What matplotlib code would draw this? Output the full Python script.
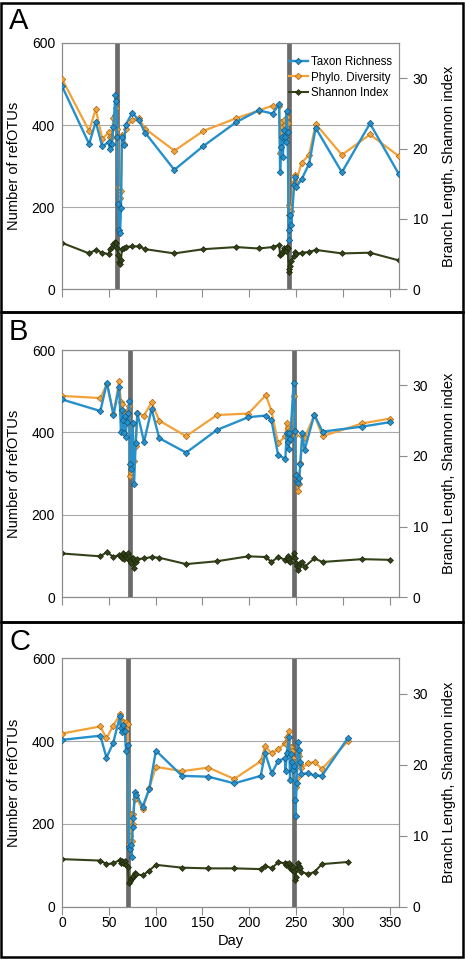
import matplotlib
matplotlib.use("Agg")
import matplotlib.pyplot as plt
from matplotlib.patches import Rectangle

plt.rcParams['font.family'] = ['Liberation Sans', 'DejaVu Sans']

# ---- data ----
# panel A
a_day = [0, 29, 36, 43, 50, 51, 53, 55, 57, 58,
         59, 60, 61, 62, 63, 64, 66, 68, 75, 82,
         89, 120, 151, 186, 210, 225, 232, 233, 234, 235,
         236, 237, 238, 239, 240, 241, 242.5, 243, 244, 245,
         248, 249, 250, 256, 264, 271, 299, 329, 360]
a_taxon = [495, 354, 408, 348, 359, 341, 355, 395, 474, 458,
           370, 209, 144, 137, 197, 371, 351, 400, 430, 412,
           381, 291, 349, 407, 436, 428, 451, 286, 347, 371,
           322, 387, 371, 359, 434, 383, 120, 144, 181, 156,
           254, 274, 248, 268, 306, 393, 285, 404, 280]
a_phylo = [29.9, 22.5, 25.6, 21.4, 22.3, 21.6, 21.7, 24.3, 24.8, 25.7,
           22.8, 14.6, 13.7, 13.0, 14.0, 21.9, 20.7, 22.8, 24.1, 24.3,
           22.8, 19.7, 22.5, 24.3, 25.4, 26.1, 26.0, 19.3, 23.8, 23.0,
           21.3, 24.0, 23.3, 22.3, 24.5, 23.6, 12.0, 10.6, 11.7, 11.1,
           15.3, 16.2, 15.3, 18.0, 19.1, 23.5, 19.1, 22.0, 18.9]
a_shannon = [6.6, 5.1, 5.6, 5.2, 5.0, 5.7, 6.0, 6.5, 6.7, 6.6,
             5.8, 4.9, 3.9, 3.6, 4.2, 5.7, 5.9, 6.0, 6.1, 6.1,
             5.7, 5.1, 5.7, 6.0, 5.8, 6.0, 6.3, 4.9, 5.0, 5.2,
             5.5, 5.9, 5.6, 5.4, 6.0, 5.8, 2.5, 2.9, 3.3, 4.0,
             4.7, 5.3, 5.0, 5.2, 5.3, 5.6, 5.1, 5.2, 4.1]
a_events = [59, 242]

# panel B
b_day = [0, 41, 48, 55, 61, 63, 64, 65, 66, 67,
         68, 69, 71, 72, 72.5, 73.5, 75.5, 77, 78.7, 80.5,
         87.6, 95.7, 103.9, 132.6, 165.5, 199, 217.7, 223.7, 230.9, 238.6,
         240, 241, 242, 243, 244, 247.4, 248.9, 250, 251, 252.4,
         253.4, 254.6, 256.7, 259.1, 269.5, 278.3, 320.5, 350.6]
b_taxon = [480, 452, 521, 442, 511, 402, 454, 430, 398, 440,
           388, 426, 446, 476, 323, 311, 424, 276, 374, 448,
           377, 457, 386, 351, 406, 437, 441, 430, 345, 336,
           399, 377, 361, 399, 385, 521, 403, 297, 282, 277,
           289, 323, 398, 357, 443, 402, 414, 425]
b_phylo = [28.5, 28.2, 30.2, 26.0, 30.6, 27.7, 27.4, 26.3, 25.7, 26.0,
           24.5, 25.7, 26.5, 27.1, 17.1, 17.7, 24.5, 19.3, 21.4, 26.1,
           25.7, 27.6, 25.0, 22.8, 25.8, 26.0, 28.6, 26.4, 21.8, 22.8,
           24.6, 23.9, 23.0, 23.6, 23.3, 28.5, 23.0, 17.5, 16.3, 15.1,
           16.0, 19.0, 22.8, 22.5, 25.8, 22.8, 24.6, 25.3]
b_shannon = [6.2, 5.8, 6.4, 5.7, 6.0, 5.9, 5.6, 6.2, 5.4, 6.0,
             5.8, 5.5, 6.3, 5.9, 5.2, 4.8, 5.6, 4.1, 5.0, 5.4,
             5.5, 5.7, 5.6, 4.7, 5.1, 5.8, 5.7, 5.0, 5.7, 5.3,
             5.6, 5.9, 5.2, 5.4, 5.0, 6.3, 5.5, 4.9, 4.5, 3.9,
             4.4, 4.8, 5.0, 4.3, 5.5, 5.0, 5.4, 5.3]
b_events = [73, 248]

# panel C
c_day = [0, 41, 47.5, 54.6, 62, 63, 64.5, 65.5, 67, 68.4,
         70.2, 71.6, 72.5, 73.5, 74.5, 75.5, 76.2, 77.7, 79.4, 86.2,
         93.2, 100.3, 128.3, 156.4, 184, 212.3, 217, 224, 231.2, 237.9,
         238.9, 240, 242.6, 243.6, 244.5, 245.5, 246.5, 247.5, 248.9, 249.5,
         250.6, 252.1, 253.2, 254.4, 255.6, 263, 269.8, 277.6, 305.3]
c_taxon = [403, 413, 360, 395, 461, 431, 423, 438, 425, 376,
           391, 145, 140, 150, 121, 193, 214, 278, 270, 242,
           284, 377, 316, 314, 298, 316, 371, 322, 353, 358,
           328, 371, 409, 306, 368, 350, 330, 340, 258, 219,
           298, 399, 379, 350, 321, 322, 317, 316, 407]
c_phylo = [24.4, 25.4, 23.7, 25.5, 27.1, 26.3, 25.7, 26.0, 25.7, 26.0,
           25.8, 8.9, 10.0, 13.0, 9.3, 11.7, 13.1, 15.2, 15.3, 13.7,
           16.7, 19.7, 19.1, 19.6, 18.0, 20.5, 22.6, 21.6, 22.2, 23.0,
           22.9, 23.9, 24.7, 22.2, 22.5, 21.9, 21.0, 20.4, 17.5, 16.9,
           18.1, 21.6, 21.3, 20.1, 19.5, 20.2, 20.4, 19.4, 23.3]
c_shannon = [6.7, 6.5, 6.0, 6.1, 6.6, 6.2, 6.5, 6.1, 6.4, 5.9,
             5.6, 3.3, 3.6, 3.9, 4.0, 4.2, 4.3, 4.7, 4.6, 4.4,
             5.1, 5.9, 5.5, 5.4, 5.4, 5.3, 5.8, 5.4, 6.3, 6.1,
             5.9, 6.0, 6.1, 5.4, 5.7, 5.2, 5.6, 5.0, 3.8, 4.2,
             5.3, 6.1, 5.8, 5.5, 4.9, 4.6, 4.9, 6.0, 6.3]
c_events = [71, 248]

day_ticks = [0, 50, 100, 150, 200, 250, 300, 350]
left_ticks = [0, 200, 400, 600]
right_ticks = [0, 10, 20, 30]

BLUE = '#2590cc'
ORANGE = '#f3a23a'
OLIVE = '#33421a'
AXGRAY = '#8c8c8c'

W, H = 465, 960
fig = plt.figure(figsize=(W / 100, H / 100), dpi=100)


def fy(py):
    return 1 - py / H


def draw_panel(top, bottom, days, taxon, phylo, shannon, events, letter,
               letter_base, show_x=False, legend=False):
    ax = fig.add_axes([62 / W, fy(bottom), 337 / W, (bottom - top) / H])
    ax2 = ax.twinx()
    # keep the primary axis (taxon richness) drawn above the secondary one
    ax.set_zorder(ax2.get_zorder() + 1)
    ax.patch.set_visible(False)

    ax.set_xlim(0, 360)
    ax.set_ylim(0, 600)
    ax2.set_ylim(0, 35)

    for d in events:
        ax.axvline(d, color='#6b6b6b', lw=3.4, zorder=1)

    sh_line, = ax.plot(days, shannon, color=OLIVE, lw=1.5, marker='D', ms=3.0,
                       mfc=OLIVE, mec='#1c2608', mew=0.5, zorder=2,
                       transform=ax2.transData, label='Shannon Index')
    pd_line, = ax.plot(days, phylo, color=ORANGE, lw=1.6, marker='D', ms=3.3,
                       mfc=ORANGE, mec='#a8650f', mew=0.5, zorder=3,
                       transform=ax2.transData, label='Phylo. Diversity')
    tr_line, = ax.plot(days, taxon, color=BLUE, lw=1.7, marker='D', ms=3.3,
                       mfc=BLUE, mec='#12567f', mew=0.5, zorder=4,
                       label='Taxon Richness')

    ax.set_xlim(0, 360)
    ax.set_ylim(0, 600)

    ax.set_yticks(left_ticks)
    ax2.set_yticks(right_ticks)
    ax.set_xticks(day_ticks)
    ax.yaxis.grid(True, color='#a8a8a8', lw=0.8)
    ax.set_axisbelow(True)

    for a in (ax, ax2):
        for s in a.spines.values():
            s.set_color(AXGRAY)
            s.set_linewidth(0.8)
    ax.tick_params(axis='y', length=0, pad=5, labelsize=10)
    ax2.tick_params(axis='y', length=5.8, width=0.8, color=AXGRAY, pad=4,
                    labelsize=10)
    ax.tick_params(axis='x', length=5.8, width=0.8, color=AXGRAY, pad=1,
                   labelsize=10, labelbottom=show_x)

    ax.set_ylabel('Number of refOTUs', fontsize=10.5, va='center')
    ax.yaxis.set_label_coords(-48 / 337, 0.5)
    ax2.set_ylabel('Branch Length, Shannon index', fontsize=10.5, va='center')
    ax2.yaxis.set_label_coords(1 + 50 / 337, 0.5)
    if show_x:
        ax.set_xlabel('Day', fontsize=10.5)
        ax.xaxis.set_label_coords(0.5, -27 / (bottom - top))

    if legend:
        ax.legend([tr_line, pd_line, sh_line],
                  ['Taxon Richness', 'Phylo. Diversity', 'Shannon Index'],
                  loc='upper right', bbox_to_anchor=(1.0, 0.975), frameon=False,
                  fontsize=8.3, handlelength=1.6, handletextpad=0.3,
                  labelspacing=0.3, borderaxespad=0.2)

    fig.text(9 / W, fy(letter_base), letter, fontsize=21, va='baseline')
    return ax


draw_panel(43, 289.3, a_day, a_taxon, a_phylo, a_shannon, a_events, 'A', 29,
           legend=True)
draw_panel(350, 597.3, b_day, b_taxon, b_phylo, b_shannon, b_events, 'B', 340)
draw_panel(658.3, 906.7, c_day, c_taxon, c_phylo, c_shannon, c_events, 'C', 650,
           show_x=True)

# black frames around the three panels
for y0, y1 in [(3, 312), (312, 622), (622, 957)]:
    fig.add_artist(Rectangle((1 / W, fy(y1)), 462 / W, (y1 - y0) / H,
                             transform=fig.transFigure, fill=False,
                             edgecolor='black', lw=1.8))

fig.savefig('out.png', dpi=100)
